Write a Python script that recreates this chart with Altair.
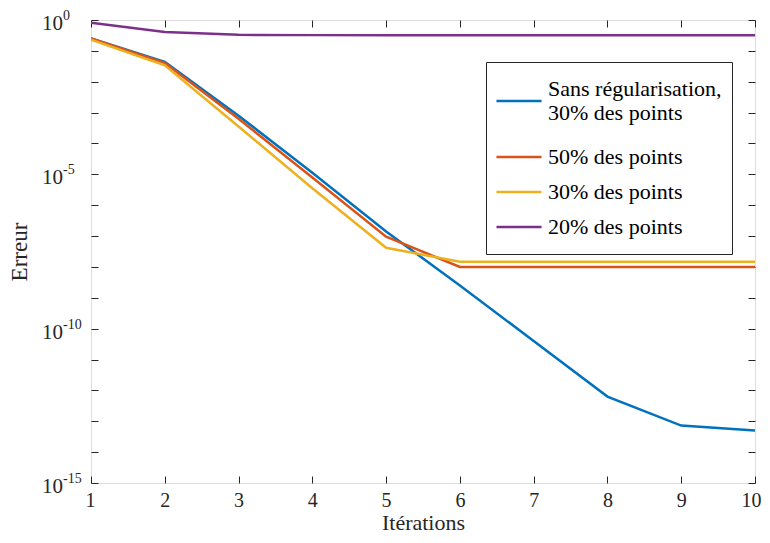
import altair as alt
import pandas as pd

iterations = [1, 2, 3, 4, 5, 6, 7, 8, 9, 10]
series_names = ["Sans régularisation, 30% des points", "50% des points", "30% des points", "20% des points"]
series_colors = ["#0072BD", "#D95319", "#EDB120", "#7E2F8E"]
# log10 of the error
log_err_sans = [-0.60, -1.36, -3.10, -4.95, -6.85, -8.60, -10.40, -12.20, -13.14, -13.30]
log_err_50 = [-0.60, -1.39, -3.20, -5.10, -7.02, -8.00, -8.00, -8.00, -8.00, -8.00]
log_err_30 = [-0.64, -1.47, -3.45, -5.45, -7.38, -7.83, -7.83, -7.83, -7.83, -7.83]
log_err_20 = [-0.09, -0.39, -0.48, -0.49, -0.49, -0.49, -0.49, -0.49, -0.49, -0.49]
y_tick_exponents = list(range(0, -16, -1))
y_major_exponents = [0, -5, -10, -15]
y_major_bases = ["10", "10", "10", "10"]
y_major_sup = ["0", "-5", "-10", "-15"]

rows = []
for name, vals in zip(series_names, [log_err_sans, log_err_50, log_err_30, log_err_20]):
    for it, v in zip(iterations, vals):
        rows.append({"Itérations": it, "Erreur": 10 ** v, "serie": name})
df = pd.DataFrame(rows)
df_blue = df[df["serie"] == series_names[0]]
df_rest = df[df["serie"] != series_names[0]]

lab = pd.DataFrame({"Erreur": [10.0 ** e for e in y_major_exponents],
                    "base": y_major_bases, "sup": y_major_sup})

FONT = "Liberation Serif"
AX = "#262626"

xscale = alt.Scale(domain=[1, 10], nice=False, zero=False)
yscale = alt.Scale(type="log", domain=[1e-15, 1], nice=False)
yvals = [10.0 ** e for e in y_tick_exponents]

x_main = alt.X("Itérations:Q", scale=xscale,
               axis=alt.Axis(values=iterations, format="d", orient="bottom", offset=-7, tickSize=7,
                             domain=False, grid=False, labelPadding=7, titlePadding=2,
                             labelFontSize=20, titleFontSize=22, labelFont=FONT, titleFont=FONT,
                             titleFontWeight="normal", labelColor=AX, titleColor=AX, tickColor=AX,
                             labelFlush=True, labelFlushOffset=6))
y_main = alt.Y("Erreur:Q", scale=yscale,
               axis=alt.Axis(values=yvals, orient="left", offset=-7, tickSize=7, labels=False,
                             domain=False, grid=False, titlePadding=59,
                             titleFontSize=23, titleFont=FONT,
                             titleFontWeight="normal", titleColor=AX, tickColor=AX))

SYM = "M-4,0H4"

blue = alt.Chart(df_blue).mark_line(strokeWidth=2.5, clip=True).encode(
    x=x_main, y=y_main,
    color=alt.Color("serie:N",
                    scale=alt.Scale(domain=series_names[:1], range=series_colors[:1]),
                    legend=alt.Legend(
                        title=".", titleOrient="top", titleColor="rgba(0,0,0,0)",
                        titleFontSize=12, titlePadding=6,
                        orient="none", legendX=395, legendY=42,
                        symbolType=SYM, symbolSize=127, symbolStrokeWidth=2.5, symbolOffset=12,
                        labelFont=FONT, labelFontSize=22, labelColor="#000000",
                        labelOffset=18, labelLimit=0, labelBaseline="bottom",
                        padding=10, strokeColor=AX, fillColor="rgba(0,0,0,0)",
                        labelExpr="['Sans régularisation,', '30% des points', '', '', '', '', '']",
                    )),
)

rest = alt.Chart(df_rest).mark_line(strokeWidth=2.5, clip=True).encode(
    x=alt.X("Itérations:Q", scale=xscale, axis=None),
    y=alt.Y("Erreur:Q", scale=yscale, axis=None),
    color=alt.Color("serie:N",
                    scale=alt.Scale(domain=series_names[1:], range=series_colors[1:]),
                    legend=alt.Legend(
                        title=None, orient="none", legendX=395, legendY=116,
                        symbolType=SYM, symbolSize=127, symbolStrokeWidth=2.5, symbolOffset=12,
                        labelFont=FONT, labelFontSize=22, labelColor="#000000",
                        labelOffset=18, labelLimit=0, rowPadding=13,
                        padding=10,
                    )),
)

frame = alt.Chart(df).mark_line(opacity=0).encode(
    x=alt.X("Itérations:Q", scale=xscale,
            axis=alt.Axis(values=iterations, orient="top", offset=-7, tickSize=7, labels=False,
                          domain=False, grid=False, title=None, tickColor=AX)),
    y=alt.Y("Erreur:Q", scale=yscale,
            axis=alt.Axis(values=yvals, orient="right", offset=-7, tickSize=7, labels=False,
                          domain=False, grid=False, title=None, tickColor=AX)),
)

base_txt = alt.Chart(lab).mark_text(align="right", baseline="middle", dy=4,
                                    font=FONT, fontSize=21, color=AX).encode(
    x=alt.value(-28), y=alt.Y("Erreur:Q", scale=yscale, axis=None), text="base:N")
sup_txt = alt.Chart(lab).mark_text(align="left", baseline="middle", dy=-4,
                                   font=FONT, fontSize=14, color=AX).encode(
    x=alt.value(-28), y=alt.Y("Erreur:Q", scale=yscale, axis=None), text="sup:N")

chart = alt.layer(blue, rest, frame, base_txt, sup_txt).resolve_scale(
    x="independent", y="independent", color="independent"
).properties(
    width=664, height=463,
    autosize=alt.AutoSizeParams(type="none"),
    padding={"left": 83, "top": 12, "right": 7, "bottom": 52},
).configure_view(stroke=AX, strokeWidth=1).configure_legend(
    labelFont=FONT, titleFont=FONT
).configure(background="white", font=FONT)

chart.save("out.html", embed_options={"renderer": "svg", "actions": False})
